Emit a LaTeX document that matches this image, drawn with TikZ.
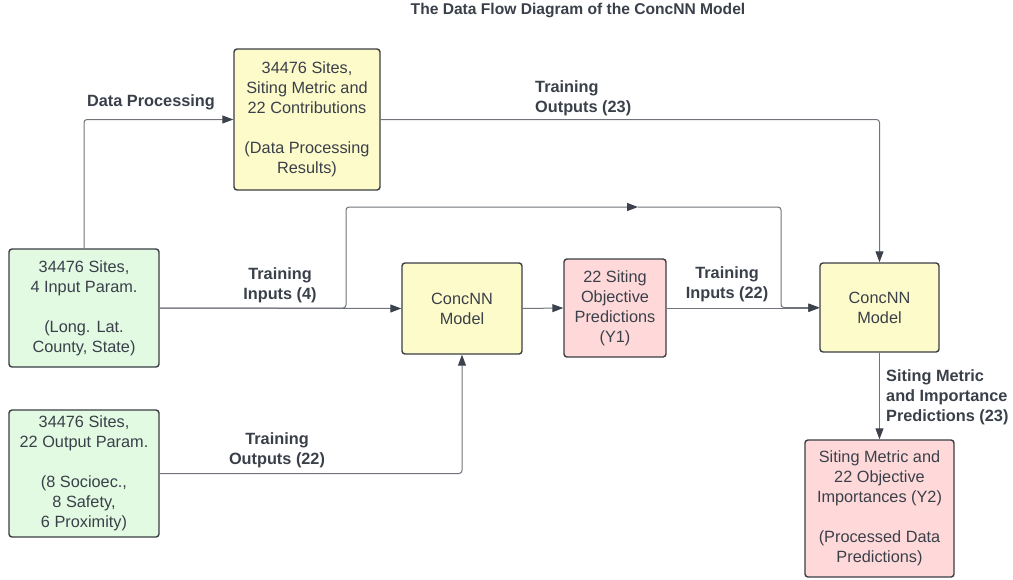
\documentclass[tikz,border=0pt]{standalone}
\usepackage{fontspec}
\setmainfont{Liberation Sans}
\usetikzlibrary{arrows.meta}
\definecolor{txt}{RGB}{58,64,74}
\definecolor{edge}{RGB}{58,62,68}
\definecolor{wire}{RGB}{112,116,122}
\definecolor{tipc}{RGB}{60,66,75}
\definecolor{fyellow}{RGB}{254,251,202}
\definecolor{fgreen}{RGB}{226,249,226}
\definecolor{fpink}{RGB}{255,217,217}
\tikzset{
  box/.style={draw=edge, line width=1.4pt, rounded corners=3pt, inner sep=0pt,
    align=center, text=txt, font=\fontsize{16.3}{20}\selectfont,
    execute at begin node={\rule{0pt}{17pt}}},
  ybox/.style={box, fill=fyellow},
  gbox/.style={box, fill=fgreen},
  pbox/.style={box, fill=fpink},
  wire/.style={draw=wire, line width=1pt, rounded corners=3pt},
  conn/.style={wire, -{Triangle[length=11pt,width=8pt,color=tipc]}},
  lbl/.style={text=txt, font=\fontsize{16.3}{20}\selectfont\bfseries, inner sep=0pt},
}
\begin{document}
\begin{tikzpicture}[x=1pt,y=-1pt]
\useasboundingbox (0,0) rectangle (1013,579);

\node[lbl, font=\fontsize{15.6}{18}\selectfont\bfseries] (title) at (578,10) {The Data Flow Diagram of the ConcNN Model};

% boxes
\node[ybox, minimum width=146pt, minimum height=141pt] (dpr) at (307,119.5)
  {34476 Sites,\\Siting Metric and\\22 Contributions\\[20pt](Data Processing\\Results)};
\node[gbox, minimum width=150pt, minimum height=118pt] (inp) at (84,308)
  {34476 Sites,\\4 Input Param.\\[20pt](Long. Lat.\\County, State)};
\node[gbox, minimum width=150pt, minimum height=127pt] (outp) at (84,473.5)
  {34476 Sites,\\22 Output Param.\\[20pt](8 Socioec.,\\8 Safety,\\6 Proximity)};
\node[ybox, minimum width=120pt, minimum height=91pt] (cnn1) at (462,308.5)
  {ConcNN\\Model};
\node[pbox, minimum width=102pt, minimum height=98pt] (y1) at (615,308)
  {22 Siting\\Objective\\Predictions\\(Y1)};
\node[ybox, minimum width=119pt, minimum height=89pt] (cnn2) at (879.5,307.5)
  {ConcNN\\Model};
\node[pbox, minimum width=149pt, minimum height=137pt] (y2) at (879.5,508.5)
  {Siting Metric and\\22 Objective\\Importances (Y2)\\[20pt](Processed Data\\Predictions)};

% connectors
\draw[conn] (inp.north) |- (dpr.west);
\draw[conn] (dpr.east) -| (cnn2.north);
\draw[conn] (inp.east) -- (cnn1.west);
\coordinate (sp) at (346,308);
\coordinate (ma) at (638,207);
\coordinate (jn) at (781,207);
\draw[conn] (inp.east) -- (sp) |- (ma);
\draw[conn] (ma) -- (jn) -- (jn |- cnn2.west) -- (cnn2.west);
\draw[conn] (cnn1.east) -- (y1.west);
\draw[conn] (y1.east) -- (y1.east -| cnn2.west);
\draw[conn] (outp.east) -| (cnn1.south);
\draw[conn] (cnn2.south) -- (y2.north);

% labels
\node[lbl] (l1) at (151,102) {Data Processing};
\node[lbl, align=left, anchor=north west] (l2) at (535,80) {Training\\Outputs (23)};
\node[lbl, align=center] (l3) at (280,285) {Training\\Inputs (4)};
\node[lbl, align=center] (l4) at (727,284) {Training\\Inputs (22)};
\node[lbl, align=center] (l5) at (277,450) {Training\\Outputs (22)};
\node[lbl, align=left, anchor=north west] (l6) at (886,369) {Siting Metric\\and Importance\\Predictions (23)};
\end{tikzpicture}
\end{document}
